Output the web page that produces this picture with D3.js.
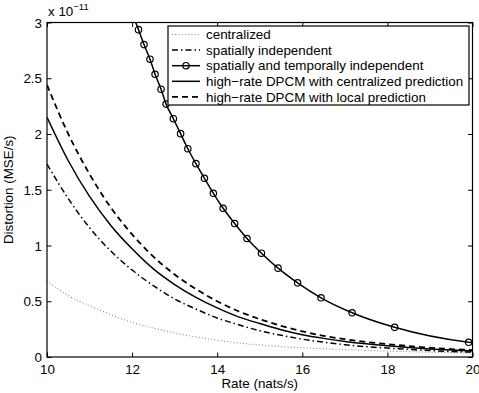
<!DOCTYPE html>
<html>
<head>
<meta charset="utf-8">
<script src="https://cdn.jsdelivr.net/npm/d3@7"></script>
<style>
  body { margin: 0; background: #fff; }
  svg text { font-family: "Liberation Sans", Arial, sans-serif; fill: #000; }
</style>
</head>
<body>
<div id="chart"></div>
<script>
// rate grid (nats/s) shared by the four smooth curves
var rates = [10, 10.5, 11, 11.5, 12, 12.5, 13, 13.5, 14, 14.5, 15, 15.5, 16, 16.5, 17, 17.5, 18, 18.5, 19, 19.5, 20];

// distortion values, units of 1e-11 MSE/s
var centralized = [0.68, 0.55, 0.46, 0.38, 0.31, 0.26, 0.215, 0.18, 0.15, 0.125, 0.108, 0.094, 0.083, 0.074, 0.066, 0.059, 0.053, 0.048, 0.043, 0.039, 0.035];
var spatialIndep = [1.73, 1.42, 1.16, 0.95, 0.78, 0.64, 0.52, 0.43, 0.35, 0.29, 0.235, 0.195, 0.16, 0.133, 0.11, 0.093, 0.08, 0.068, 0.058, 0.05, 0.044];
var dpcmCentral = [2.15, 1.76, 1.44, 1.18, 0.97, 0.79, 0.65, 0.535, 0.44, 0.36, 0.30, 0.245, 0.20, 0.167, 0.14, 0.118, 0.10, 0.085, 0.072, 0.062, 0.054];
var dpcmLocal = [2.44, 2.00, 1.64, 1.34, 1.10, 0.90, 0.74, 0.61, 0.50, 0.41, 0.34, 0.28, 0.23, 0.19, 0.16, 0.135, 0.115, 0.098, 0.083, 0.071, 0.062];

// spatially and temporally independent: marker points (curve starts above the top)
var stRates = [12.0, 12.15, 12.28, 12.42, 12.54, 12.68, 12.80, 12.97, 13.14, 13.31, 13.50, 13.70, 13.91, 14.14, 14.41, 14.70, 15.04, 15.43, 15.89, 16.44, 17.17, 18.17, 19.91, 20.0];
var stDist = [3.08, 2.936, 2.802, 2.671, 2.536, 2.402, 2.268, 2.137, 2.003, 1.868, 1.734, 1.603, 1.468, 1.334, 1.197, 1.063, 0.931, 0.797, 0.665, 0.531, 0.397, 0.266, 0.132, 0.128];
var stMarked = stRates.map(function (r) { return r > 12.05 && r < 19.95; });

var xTicks = [10, 12, 14, 16, 18, 20];
var yTicks = [0, 0.5, 1, 1.5, 2, 2.5, 3];

var legendLabels = [
  "centralized",
  "spatially independent",
  "spatially and temporally independent",
  "high\u2212rate DPCM with centralized prediction",
  "high\u2212rate DPCM with local prediction"
];

var width = 479, height = 393,
    margin = {top: 22.5, right: 6.5, bottom: 36, left: 47};
var iw = width - margin.left - margin.right,
    ih = height - margin.top - margin.bottom;
var fs = "13.4px";

var svg = d3.select("#chart").append("svg")
  .attr("width", width).attr("height", height);
var g = svg.append("g").attr("transform", `translate(${margin.left},${margin.top})`);

var x = d3.scaleLinear().domain([10, 20]).range([0, iw]);
var y = d3.scaleLinear().domain([0, 3]).range([ih, 0]);

svg.append("defs").append("clipPath").attr("id", "plot")
  .append("rect").attr("width", iw).attr("height", ih);

var plot = g.append("g").attr("clip-path", "url(#plot)");

var line = d3.line()
  .x(function (d) { return x(d[0]); })
  .y(function (d) { return y(d[1]); })
  .curve(d3.curveMonotoneX);

var styles = [
  {data: centralized, color: "#888", width: 1.1, dash: "1,2.2"},
  {data: spatialIndep, color: "#000", width: 1.5, dash: "6,3,1.5,3"},
  null,
  {data: dpcmCentral, color: "#000", width: 1.5, dash: null},
  {data: dpcmLocal, color: "#000", width: 1.8, dash: "6,4"}
];

styles.forEach(function (s) {
  if (!s) return;
  plot.append("path")
    .datum(rates.map(function (r, i) { return [r, s.data[i]]; }))
    .attr("fill", "none")
    .attr("stroke", s.color)
    .attr("stroke-width", s.width)
    .attr("stroke-dasharray", s.dash)
    .attr("d", line);
});

var stPts = stRates.map(function (r, i) { return [r, stDist[i]]; });
plot.append("path")
  .datum(stPts)
  .attr("fill", "none")
  .attr("stroke", "#000")
  .attr("stroke-width", 1.5)
  .attr("d", line);

plot.selectAll(".mk")
  .data(stPts.filter(function (d, i) { return stMarked[i]; }))
  .enter().append("circle")
  .attr("class", "mk")
  .attr("cx", function (d) { return x(d[0]); })
  .attr("cy", function (d) { return y(d[1]); })
  .attr("r", 3.2)
  .attr("fill", "none")
  .attr("stroke", "#000")
  .attr("stroke-width", 1.2);

// axes (box with inward ticks on all sides)
var tickLen = 4.5;
var xAxis = d3.axisBottom(x).tickValues(xTicks).tickSizeInner(-tickLen).tickSizeOuter(0).tickPadding(8);
var yAxis = d3.axisLeft(y).tickValues(yTicks).tickSizeInner(-tickLen).tickSizeOuter(0).tickPadding(8)
  .tickFormat(function (d) { return d; });

var xa = g.append("g").attr("transform", `translate(0,${ih})`).call(xAxis);
var ya = g.append("g").call(yAxis);
var xt = g.append("g").call(d3.axisTop(x).tickValues(xTicks).tickSizeInner(-tickLen).tickSizeOuter(0).tickFormat(""));
var yr = g.append("g").attr("transform", `translate(${iw},0)`)
  .call(d3.axisRight(y).tickValues(yTicks).tickSizeInner(-tickLen).tickSizeOuter(0).tickFormat(""));

[xa, ya, xt, yr].forEach(function (a) {
  a.select(".domain").remove();
  a.selectAll("line").attr("stroke", "#000");
  a.selectAll("text").style("font-size", fs).attr("fill", "#000");
});
ya.selectAll("text").attr("dx", "3").attr("dy", "0.35em");
xa.selectAll("text").attr("dy", "0.7em");

g.append("rect")
  .attr("width", iw).attr("height", ih)
  .attr("fill", "none").attr("stroke", "#000").attr("stroke-width", 1.2);

// exponent note
var ex = svg.append("text").attr("x", margin.left + 1).attr("y", 16).style("font-size", fs);
ex.append("tspan").text("x 10");
ex.append("tspan").attr("dy", -6).style("font-size", "9.5px").text("\u221211");

// axis titles
svg.append("text")
  .attr("x", margin.left + iw / 2).attr("y", 388)
  .attr("text-anchor", "middle").style("font-size", fs)
  .text("Rate (nats/s)");
svg.append("text")
  .attr("transform", `translate(13,${margin.top + ih / 2}) rotate(-90)`)
  .attr("text-anchor", "middle").style("font-size", fs)
  .text("Distortion (MSE/s)");

// legend
var lg = svg.append("g").attr("transform", "translate(168,26)");
lg.append("rect").attr("width", 301).attr("height", 79)
  .attr("fill", "#fff").attr("stroke", "#000").attr("stroke-width", 1.2);

legendLabels.forEach(function (lab, i) {
  var ly = 8.5 + i * 15.6;
  var s = styles[i];
  var row = lg.append("g").attr("transform", `translate(0,${ly})`);
  if (s) {
    row.append("line").attr("x1", 4).attr("x2", 32).attr("y1", 0).attr("y2", 0)
      .attr("stroke", s.color).attr("stroke-width", s.width)
      .attr("stroke-dasharray", s.dash);
  } else {
    row.append("line").attr("x1", 4).attr("x2", 32).attr("y1", 0).attr("y2", 0)
      .attr("stroke", "#000").attr("stroke-width", 1.5);
    row.append("circle").attr("cx", 18).attr("cy", 0).attr("r", 3.2)
      .attr("fill", "none").attr("stroke", "#000").attr("stroke-width", 1.2);
  }
  row.append("text").attr("x", 38).attr("dy", "0.35em")
    .style("font-size", fs).text(lab);
});
</script>
</body>
</html>
